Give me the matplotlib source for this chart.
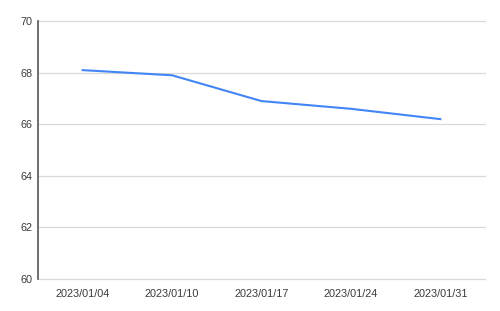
import matplotlib
matplotlib.use("Agg")
import matplotlib.pyplot as plt

dates = ["2023/01/04", "2023/01/10", "2023/01/17", "2023/01/24", "2023/01/31"]
values = [68.1, 67.9, 66.9, 66.6, 66.2]
y_ticks = [60, 62, 64, 66, 68, 70]

plt.rcParams['font.family'] = ['Liberation Sans', 'DejaVu Sans']

fig = plt.figure(figsize=(5, 3.11), dpi=100)
ax = fig.add_axes([0.076, 0.103, 0.894, 0.829])

x = list(range(len(dates)))
ax.plot(x, values, color='#4285F4', linewidth=1.5, solid_joinstyle='round')

ax.set_xlim(-0.5, len(dates) - 0.5)
ax.set_ylim(60, 70)
ax.set_yticks(y_ticks)
ax.set_xticks(x)
ax.set_xticklabels(dates)

ax.grid(axis='y', color='#d9d9d9', linewidth=0.9)
for gl in ax.get_ygridlines():
    gl.set_clip_on(False)
ax.set_axisbelow(True)
for s in ['top', 'right', 'bottom']:
    ax.spines[s].set_visible(False)
ax.spines['left'].set_color('#555555')
ax.spines['left'].set_linewidth(1.2)
ax.spines['left'].set_zorder(3)
ax.tick_params(axis='both', length=0, labelsize=7.8, colors='#3a3a3a')
ax.tick_params(axis='x', pad=7)
ax.tick_params(axis='y', pad=4)

fig.savefig("out.png", dpi=100)
